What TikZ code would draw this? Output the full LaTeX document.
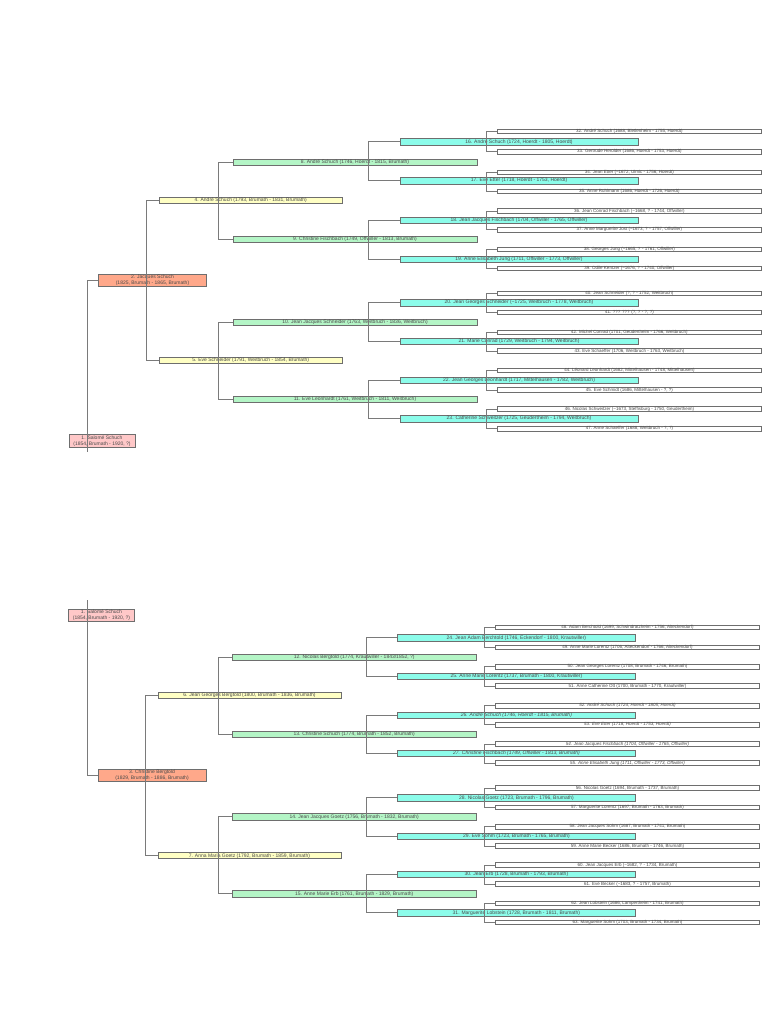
\documentclass[tikz,border=0pt]{standalone}
\usepackage{fontspec}
\setmainfont{Liberation Sans}
\definecolor{txt}{HTML}{4A4A4A}
\definecolor{lin}{HTML}{7A7A7A}
\definecolor{bord}{HTML}{6E6E6E}
\definecolor{cRoot}{HTML}{FFC8C8}
\definecolor{cGa}{HTML}{FFA88A}
\definecolor{cGb}{HTML}{FFFFC4}
\definecolor{cGc}{HTML}{B4F5C6}
\definecolor{cGd}{HTML}{8CFCEA}
\tikzset{
  pbox/.style={draw=bord, line width=0.6pt, inner sep=0pt, align=center, text=txt,
    font=\fontsize{5}{6}\selectfont},
  rootbox/.style={pbox, fill=cRoot, minimum width=66pt, minimum height=12.5pt},
  gabox/.style={pbox, fill=cGa, minimum width=108pt, minimum height=12.5pt},
  gbbox/.style={pbox, fill=cGb, minimum width=183pt, minimum height=6pt},
  gcbox/.style={pbox, fill=cGc, minimum width=244pt, minimum height=6.3pt},
  gdbox/.style={pbox, fill=cGd, minimum width=238pt, minimum height=6.3pt},
  gebox/.style={pbox, fill=white, minimum width=264pt, minimum height=4.6pt,
    font=\fontsize{4.5}{5}\selectfont},
  conn/.style={draw=lin, line width=0.7pt},
}
\begin{document}
\begin{tikzpicture}[x=1pt,y=-1pt]
\useasboundingbox (0,0) rectangle (768,1024);
% ---------------- top tree ----------------
\node[rootbox] (a1) at (102,441) {1. Salomé Schuch\\(1854, Brumath - 1920, ?)};
\node[gabox] (a2) at (152.5,280.5) {2. Jacques Schuch\\(1825, Brumath - 1865, Brumath)};
\node[gbbox] (a4) at (250.7,200.3) {4. André Schuch (1793, Brumath - 1831, Brumath)};
\node[gbbox] (a5) at (250.7,360.3) {5. Eve Schneider (1791, Weitbruch - 1854, Brumath)};
\node[gcbox] (a8) at (355,162) {8. André Schuch (1746, Hoerdt - 1815, Brumath)};
\node[gcbox] (a9) at (355,239) {9. Christine Fischbach (1749, Offwiller - 1813, Brumath)};
\node[gcbox] (a10) at (355,322.3) {10. Jean Jacques Schneider (1763, Weitbruch - 1836, Weitbruch)};
\node[gcbox] (a11) at (355,399) {11. Eve Leonhardt (1761, Weitbruch - 1811, Weitbruch)};
\node[gdbox] (a16) at (519,141.7) {16. André Schuch (1724, Hoerdt - 1805, Hoerdt)};
\node[gdbox] (a17) at (519,180.7) {17. Eve Etter (1718, Hoerdt - 1753, Hoerdt)};
\node[gdbox] (a18) at (519,220) {18. Jean Jacques Fischbach (1704, Offwiller - 1765, Offwiller)};
\node[gdbox] (a19) at (519,259) {19. Anne Elisabeth Jung (1711, Offwiller - 1773, Offwiller)};
\node[gdbox] (a20) at (519,302.7) {20. Jean Georges Schneider (\textasciitilde1725, Weitbruch - 1778, Weitbruch)};
\node[gdbox] (a21) at (519,341.3) {21. Marie Conrad (1729, Weitbruch - 1794, Weitbruch)};
\node[gdbox] (a22) at (519,380) {22. Jean Georges Leonhardt (1717, Mittelhausen - 1782, Weitbruch)};
\node[gdbox] (a23) at (519,418.7) {23. Catherine Schweitzer (1725, Geudertheim - 1794, Weitbruch)};
\node[gebox] (a32) at (629.4,131.3) {32. André Schuch (1688, Bietlenheim - 1755, Hoerdt)};
\node[gebox] (a33) at (629.4,151.7) {33. Gertrude Herolder (1686, Hoerdt - 1753, Hoerdt)};
\node[gebox] (a34) at (629.4,172.3) {34. Jean Etter (\textasciitilde1672, Ulmic - 1756, Hoerdt)};
\node[gebox] (a35) at (629.4,191.3) {35. Anne Ruhlmann (1686, Hoerdt - 1726, Hoerdt)};
\node[gebox] (a36) at (629.4,211) {36. Jean Conrad Fischbach (\textasciitilde1668, ? - 1744, Offwiller)};
\node[gebox] (a37) at (629.4,229.7) {37. Anne Marguerite Jost (\textasciitilde1673, ? - 1757, Offwiller)};
\node[gebox] (a38) at (629.4,249.3) {38. Georges Jung (\textasciitilde1665, ? - 1761, Offwiller)};
\node[gebox] (a39) at (629.4,268.3) {39. Odile Kentzer (\textasciitilde1676, ? - 1740, Offwiller)};
\node[gebox] (a40) at (629.4,293.3) {40. Jean Schneider (?, ? - 1752, Weitbruch)};
\node[gebox] (a41) at (629.4,312.3) {41. ??? ??? (?, ? - ?, ?)};
\node[gebox] (a42) at (629.4,332.3) {42. Michel Conrad (1701, Geudertheim - 1766, Weitbruch)};
\node[gebox] (a43) at (629.4,351) {43. Eve Schaeffer (1706, Weitbruch - 1763, Weitbruch)};
\node[gebox] (a44) at (629.4,370.3) {44. Léonard Leonhardt (1682, Mittelhausen - 1748, Mittelhausen)};
\node[gebox] (a45) at (629.4,390) {45. Eve Schmidt (1686, Mittelhausen - ?, ?)};
\node[gebox] (a46) at (629.4,409) {46. Nicolas Schweitzer (\textasciitilde1673, Steffisburg - 1750, Geudertheim)};
\node[gebox] (a47) at (629.4,428.7) {47. Anne Schaeffer (1688, Weitbruch - ?, ?)};
\coordinate (aend) at (87.3,452);
\draw[conn] (a2.west) -| (aend);
\draw[conn] (a4.west) -- ++(-13,0) |- (a5.west);
\draw[conn] (a8.west) -- ++(-14,0) |- (a9.west);
\draw[conn] (a10.west) -- ++(-14,0) |- (a11.west);
\foreach \p/\q in {16/17,18/19,20/21,22/23}
  \draw[conn] (a\p.west) -- ++(-31.4,0) |- (a\q.west);
\foreach \p/\q in {32/33,34/35,36/37,38/39,40/41,42/43,44/45,46/47}
  \draw[conn] (a\p.west) -- ++(-11,0) |- (a\q.west);
% ---------------- bottom tree ----------------
\node[rootbox] (b1) at (101.5,615.2) {1. Salomé Schuch\\(1854, Brumath - 1920, ?)};
\node[gabox] (b3) at (152,775.5) {3. Christine Bergtold\\(1829, Brumath - 1886, Brumath)};
\node[gbbox] (b6) at (249.5,695.3) {6. Jean Georges Bergtold (1800, Brumath - 1836, Brumath)};
\node[gbbox] (b7) at (249.5,855.7) {7. Anna Maria Goetz (1792, Brumath - 1859, Brumath)};
\node[gcbox] (b12) at (354.2,657) {12. Nicolas Bergtold (1774, Krautwiller - 1843/1852, ?)};
\node[gcbox] (b13) at (354.2,734) {13. Christine Schuch (1774, Brumath - 1852, Brumath)};
\node[gcbox] (b14) at (354.2,816.7) {14. Jean Jacques Goetz (1756, Brumath - 1832, Brumath)};
\node[gcbox] (b15) at (354.2,893.7) {15. Anne Marie Erb (1761, Brumath - 1829, Brumath)};
\node[gdbox] (b24) at (516.4,637.7) {24. Jean Adam Berchtold (1746, Eckendorf - 1800, Krautwiller)};
\node[gdbox] (b25) at (516.4,676.3) {25. Anne Marie Lorentz (1737, Brumath - 1800, Krautwiller)};
\node[gdbox] (b26) at (516.4,715) {\itshape 26. André Schuch (1746, Hoerdt - 1815, Brumath)};
\node[gdbox] (b27) at (516.4,753) {\itshape 27. Christine Fischbach (1749, Offwiller - 1813, Brumath)};
\node[gdbox] (b28) at (516.4,797.7) {28. Nicolas Goetz (1723, Brumath - 1796, Brumath)};
\node[gdbox] (b29) at (516.4,836) {29. Eve Sohm (1723, Brumath - 1765, Brumath)};
\node[gdbox] (b30) at (516.4,874.3) {30. Jean Erb (1728, Brumath - 1793, Brumath)};
\node[gdbox] (b31) at (516.4,912.7) {31. Marguerite Lobstein (1728, Brumath - 1811, Brumath)};
\node[gebox] (b48) at (627.5,627.3) {48. Adam Berchtold (1699, Schwindratzheim - 1756, Alteckendorf)};
\node[gebox] (b49) at (627.5,647.3) {49. Anne Marie Lorentz (1706, Alteckendorf - 1766, Alteckendorf)};
\node[gebox] (b50) at (627.5,666.7) {50. Jean Georges Lorentz (1708, Brumath - 1746, Brumath)};
\node[gebox] (b51) at (627.5,686) {51. Anne Catherine Ott (1700, Brumath - 1770, Krautwiller)};
\node[gebox] (b52) at (627.5,705.7) {\itshape 52. André Schuch (1724, Hoerdt - 1805, Hoerdt)};
\node[gebox] (b53) at (627.5,724.7) {\itshape 53. Eve Etter (1718, Hoerdt - 1753, Hoerdt)};
\node[gebox] (b54) at (627.5,744) {\itshape 54. Jean Jacques Fischbach (1704, Offwiller - 1765, Offwiller)};
\node[gebox] (b55) at (627.5,763) {\itshape 55. Anne Elisabeth Jung (1711, Offwiller - 1773, Offwiller)};
\node[gebox] (b56) at (627.5,788) {56. Nicolas Goetz (1694, Brumath - 1737, Brumath)};
\node[gebox] (b57) at (627.5,807.3) {57. Marguerite Lorentz (1697, Brumath - 1763, Brumath)};
\node[gebox] (b58) at (627.5,826.7) {58. Jean Jacques Sohm (1687, Brumath - 1741, Brumath)};
\node[gebox] (b59) at (627.5,846) {59. Anne Marie Becker (1686, Brumath - 1746, Brumath)};
\node[gebox] (b60) at (627.5,865) {60. Jean Jacques Erb (\textasciitilde1682, ? - 1734, Brumath)};
\node[gebox] (b61) at (627.5,884) {61. Eve Becker (\textasciitilde1683, ? - 1757, Brumath)};
\node[gebox] (b62) at (627.5,903.3) {62. Jean Lobstein (1686, Lampertheim - 1741, Brumath)};
\node[gebox] (b63) at (627.5,922.3) {63. Marguerite Sohm (1703, Brumath - 1734, Brumath)};
\coordinate (bend) at (87.3,600);
\draw[conn] (b3.west) -| (bend);
\draw[conn] (b6.west) -- ++(-12.3,0) |- (b7.west);
\draw[conn] (b12.west) -- ++(-14,0) |- (b13.west);
\draw[conn] (b14.west) -- ++(-14,0) |- (b15.west);
\foreach \p/\q in {24/25,26/27,28/29,30/31}
  \draw[conn] (b\p.west) -- ++(-31,0) |- (b\q.west);
\foreach \p/\q in {48/49,50/51,52/53,54/55,56/57,58/59,60/61,62/63}
  \draw[conn] (b\p.west) -- ++(-10.7,0) |- (b\q.west);
\end{tikzpicture}
\end{document}
